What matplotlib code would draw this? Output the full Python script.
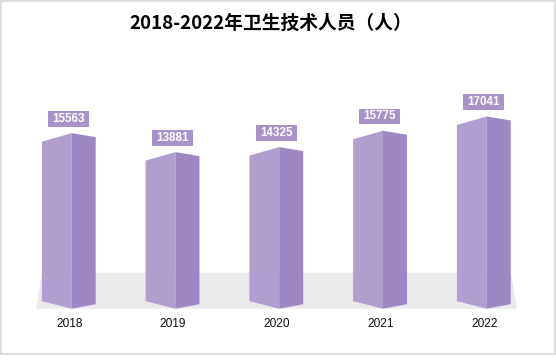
import matplotlib
matplotlib.use("Agg")
import matplotlib.pyplot as plt
from matplotlib.patches import Polygon, Rectangle

years = ["2018", "2019", "2020", "2021", "2022"]
values = [15563, 13881, 14325, 15775, 17041]
title = "2018-2022年卫生技术人员（人）"

W, H = 556, 363
fig = plt.figure(figsize=(W / 100, H / 100), dpi=100)
ax = fig.add_axes([0, 0, 1, 1])
ax.axis("off")

# scale: pixels <-> data
PX = 1 / 103.75      # x units per pixel
PY = 88.65           # y units per pixel
x0_px, y0_px = 71.7, 308.7
ax.set_xlim(-x0_px * PX, (W - x0_px) * PX)
ax.set_ylim(-(H - y0_px) * PY, y0_px * PY)

LEFT = "#b09ed0"
RIGHT = "#9e88c4"
FLOOR = "#eaeaed"
BOX = "#a792c9"

# floor
n = len(values)
floor = Polygon([(-35.7 * PX, 0), ((n - 1) + 30.3 * PX, 0),
                 ((n - 1) + 24.3 * PX, 36 * PY), (-29.7 * PX, 36 * PY)],
                closed=True, fc=FLOOR, ec="none", zorder=1)
ax.add_patch(floor)

wl, wr = 29.8 * PX, 24 * PX
for i, v in enumerate(values):
    left = Polygon([(i - wl, v - 8.5 * PY), (i, v), (i, 0), (i - wl, 7.5 * PY)],
                   closed=True, fc=LEFT, ec="none", zorder=2)
    right = Polygon([(i, v), (i + wr, v - 4 * PY), (i + wr, 4.5 * PY), (i, 0)],
                    closed=True, fc=RIGHT, ec="none", zorder=2)
    ax.add_patch(left)
    ax.add_patch(right)
    cx = i - 3 * PX
    ax.add_patch(Rectangle((cx - 20.5 * PX, v + 6.5 * PY), 41 * PX, 15.5 * PY,
                           fc=BOX, ec="none", zorder=3))
    ax.text(cx, v + 14.3 * PY, f"{v}", color="white", fontsize=8.4, fontweight="bold",
            family=["Liberation Sans", "DejaVu Sans"], ha="center", va="center", zorder=4)
    ax.text(i - 2.5 * PX, -15.5 * PY, years[i], color="#111111", fontsize=8.6,
            family=["Liberation Sans", "DejaVu Sans"], ha="center", va="center", zorder=4)

fig.text(271 / W, 1 - 23 / H, title, fontsize=13.5, fontweight="bold",
         family=["Noto Sans CJK SC", "DejaVu Sans"], ha="center", va="center", color="black")

# outer frame
fig.patches.append(Rectangle((0.5 / W, 1 - 353.5 / H), 554.5 / W, 353 / H,
                             transform=fig.transFigure, fill=False, ec="#d6d6d6", lw=1.2))

fig.savefig("out.png", dpi=100)
